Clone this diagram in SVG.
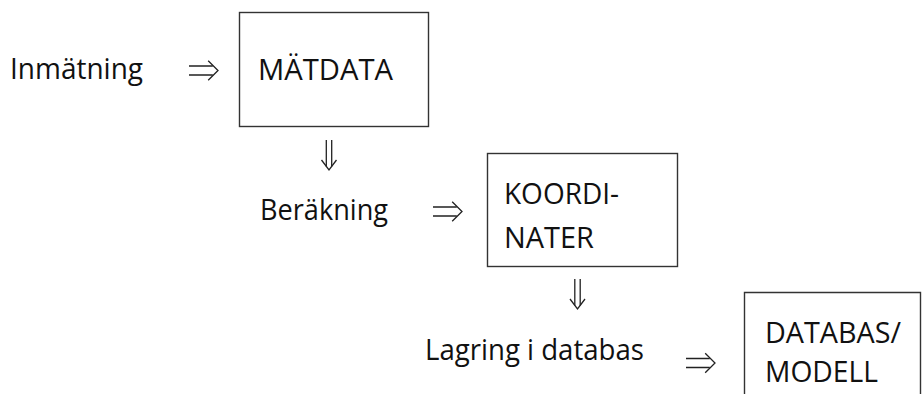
<svg xmlns="http://www.w3.org/2000/svg" xmlns:xlink="http://www.w3.org/1999/xlink" width="922" height="402" viewBox="0 0 922 402">
  <style>
    .lbl { font-family: "Open Sans", "Liberation Sans", sans-serif; font-size: 29px; fill: #111; }
    .box { fill: none; stroke: #333; stroke-width: 1.4; }
    .arr { fill: none; stroke: #222; stroke-width: 1.3; stroke-linecap: butt; stroke-linejoin: miter; }
  </style>
  <defs>
    <g id="dblRight" class="arr">
      <path d="M-29,-4.5 H-5.2 M-29,4.5 H-5.2"/>
      <path d="M-9.8,-9.8 L0,0 L-9.8,9.8"/>
    </g>
    <g id="dblDown" class="arr">
      <path d="M-2.7,-30 V-3.6 M2.7,-30 V-3.6"/>
      <path d="M-7.5,-10 L0,0 L7.5,-10"/>
    </g>
  </defs>
  <rect width="922" height="402" fill="#fff"/>

  <g id="inmatning">
    <text class="lbl" x="10" y="79" textLength="133" lengthAdjust="spacingAndGlyphs">Inmätning</text>
  </g>
  <g id="matdata">
    <rect class="box" x="239.5" y="12.5" width="189" height="114"/>
    <text class="lbl" x="258" y="80" textLength="135" lengthAdjust="spacingAndGlyphs">MÄTDATA</text>
  </g>
  <g id="berakning">
    <text class="lbl" x="260" y="220" textLength="128" lengthAdjust="spacingAndGlyphs">Beräkning</text>
  </g>
  <g id="koordinater">
    <rect class="box" x="487.5" y="153.5" width="190" height="113"/>
    <text class="lbl" x="504" y="204" textLength="115" lengthAdjust="spacingAndGlyphs">KOORDI-</text>
    <text class="lbl" x="504" y="248" textLength="90" lengthAdjust="spacingAndGlyphs">NATER</text>
  </g>
  <g id="lagring">
    <text class="lbl" x="425" y="360" textLength="219" lengthAdjust="spacingAndGlyphs">Lagring i databas</text>
  </g>
  <g id="databas">
    <path class="box" d="M744.5,394 V292.5 H920.5 V394"/>
    <text class="lbl" x="765" y="343" textLength="136" lengthAdjust="spacingAndGlyphs">DATABAS/</text>
    <text class="lbl" x="765" y="382" textLength="113" lengthAdjust="spacingAndGlyphs">MODELL</text>
  </g>

  <g id="connectors">
    <use xlink:href="#dblRight" href="#dblRight" transform="translate(218,70.5)"/>
    <use xlink:href="#dblDown" href="#dblDown" transform="translate(329,170)"/>
    <use xlink:href="#dblRight" href="#dblRight" transform="translate(462,211.5)"/>
    <use xlink:href="#dblDown" href="#dblDown" transform="translate(577.5,309)"/>
    <use xlink:href="#dblRight" href="#dblRight" transform="translate(715,363)"/>
  </g>
</svg>
